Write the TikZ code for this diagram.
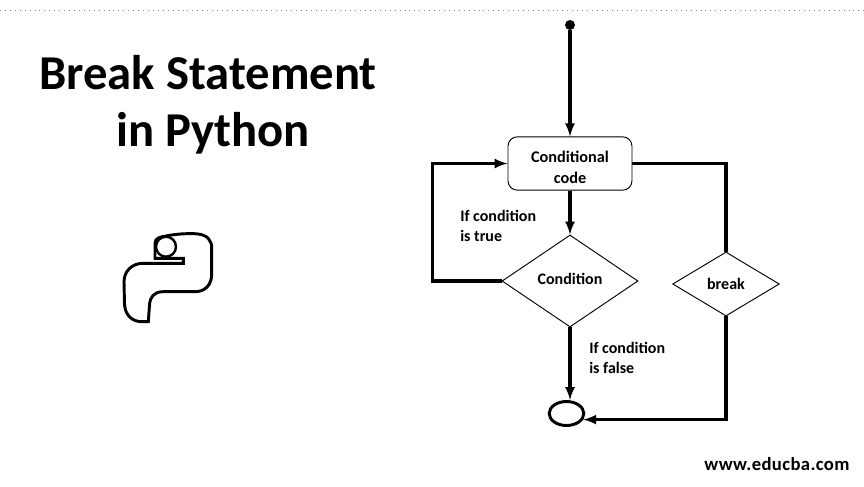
\documentclass[tikz,border=0pt]{standalone}
\usepackage{fontspec}
\setmainfont{Carlito}
\usetikzlibrary{shapes.geometric}
\tikzset{
  flowline/.style={line width=2.3pt, black},
  flowarrow/.style={flowline, -latex},
  flowtext/.style={font=\fontsize{12}{15}\selectfont\bfseries, align=left, inner sep=0pt},
  decision/.style={draw, diamond, line width=0.7pt, inner sep=0pt, font=\fontsize{12}{15}\selectfont\bfseries}
}
\begin{document}
\begin{tikzpicture}[x=0.75pt, y=-0.75pt]
        \useasboundingbox (0,0) rectangle (864,486);
        \coordinate (ruleL) at (0,10);
        \coordinate (ruleR) at (864,10);
        \draw[gray, line width=0.7pt, dash pattern=on 0.7pt off 3pt] (ruleL) -- (ruleR);
        \node[font=\fontsize{36.5}{43}\selectfont\bfseries, align=center, inner sep=0pt] (title) at (208,105) {Break Statement\\\hspace*{7.5pt}in Python};
        % logo
        \draw[line width=2.2pt] (155,258.3) -- (155,243.3) .. controls (155,238) and (160,237) .. (166,236) .. controls (175,234) and (190,233) .. (198,234) .. controls (207,235) and (211.7,240) .. (211.7,248) -- (211.7,274) .. controls (211.7,285) and (205,291.7) .. (195,291.7) -- (163,291.7) .. controls (154,291.7) and (150,297) .. (149.5,305) -- (148.3,321.7) -- (142,321.7) .. controls (132,321.7) and (125,315) .. (124.5,304) -- (124,282) .. controls (124,271) and (132,263.3) .. (143.3,263.3) -- (183.3,263.3) -- (183.3,258.3) -- cycle;
        \node[draw, circle, line width=1.8pt, minimum size=15pt, inner sep=0pt] (eye) at (166,246.7) {};
        % flow
        \node[draw, fill=white, rounded corners=7pt, line width=0.7pt, minimum width=93pt, minimum height=40pt, align=center, text height=30pt, font=\fontsize{12.2}{15.5}\selectfont\bfseries] (code) at (570,163.5) {Conditional\\code};
        \node[fill, circle, minimum size=7.5pt, inner sep=0pt] (start) at (570,25) {};
        \node[decision, aspect=1.48, minimum width=102pt, minimum height=69pt, text depth=3pt] (cond) at (570,281) {Condition};
        \node[decision, aspect=1.67, minimum width=80pt, minimum height=48pt] (brk) at (726,284) {break};
        \node[draw, ellipse, line width=2.2pt, minimum width=26pt, minimum height=18pt, inner sep=0pt] (stop) at (566.5,413.5) {};
        \node[flowtext, anchor=west] (truelabel) at (460,226) {If condition\\is true};
        \node[flowtext, anchor=west] (falselabel) at (589,358) {If condition\\is false};
        \node[font=\fontsize{14}{15}\selectfont\bfseries\addfontfeatures{LetterSpace=2}, inner sep=0pt] (site) at (777,464) {www.educba.com};
        \draw[flowarrow] (start) -- (code);
        \draw[flowarrow] (code) -- (cond);
        \draw[flowarrow] (cond.west) -- ++(-69,0) |- (code.west);
        \draw[flowline] (code.east) -| (brk.north);
        \draw[flowarrow] (cond.south) -- (cond.south |- stop.north);
        \draw[flowarrow] (brk.south) |- (stop.-20);
      \end{tikzpicture}
\end{document}
